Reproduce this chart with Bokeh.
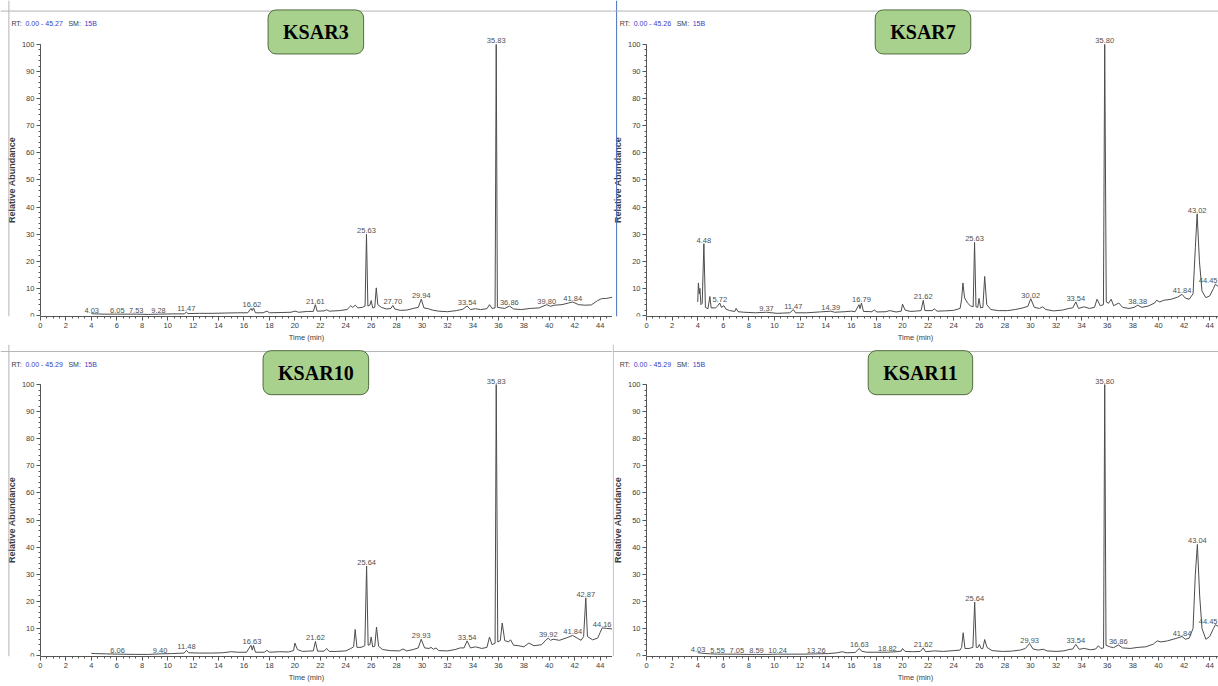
from bokeh.plotting import figure
from bokeh.layouts import gridplot
from bokeh.models import Range1d, FixedTicker, Label, ColumnDataSource, Span
from bokeh.core.properties import value
from bokeh.embed import file_html
from bokeh.resources import INLINE

# ---------------- data ----------------
ksar3_t = [4.0, 4.2, 5.0, 6.05, 7.53, 8.5, 9.28, 10.5, 11.3, 11.47, 11.6, 12.5, 13.5, 14.5, 15.5, 16.3,
           16.55, 16.65, 16.75, 16.9, 17.5, 17.8, 18.0, 19.0, 19.7, 20.0, 20.3, 21.0, 21.45, 21.61, 21.75,
           22.3, 22.5, 22.7, 23.5, 24.1, 24.4, 24.55, 24.75, 24.95, 25.3, 25.52, 25.63, 25.74, 25.9, 26.0,
           26.12, 26.28, 26.4, 26.52, 26.8, 27.2, 27.55, 27.70, 27.85, 28.3, 28.8, 29.3, 29.7, 29.94, 30.15,
           30.5, 30.8, 31.3, 32.0, 32.7, 33.2, 33.54, 33.8, 34.2, 34.6, 35.1, 35.3, 35.5, 35.74, 35.83,
           35.92, 36.2, 36.5, 36.86, 37.2, 37.8, 38.5, 39.2, 39.80, 40.1, 40.4, 41.0, 41.5, 41.84, 42.3,
           42.8, 43.3, 43.8, 44.1, 44.5, 45.0, 45.27]
ksar3_y = [0.7, 0.6, 0.5, 0.5, 0.5, 0.4, 0.5, 0.6, 0.6, 1.2, 0.7, 0.8, 0.8, 0.9, 1.0, 1.0,
           2.6, 1.8, 2.8, 1.0, 1.0, 1.6, 1.0, 1.1, 1.2, 1.6, 1.2, 1.5, 1.5, 4.0, 1.6,
           1.7, 2.1, 1.6, 1.8, 2.2, 3.6, 3.0, 3.8, 2.8, 3.0, 3.5, 30.0, 3.5, 3.8, 5.5,
           2.8, 3.0, 10.2, 4.0, 3.0, 2.4, 2.6, 3.7, 2.4, 1.9, 2.0, 2.6, 3.0, 6.0, 2.8,
           2.5, 2.0, 1.6, 1.4, 1.8, 2.3, 3.5, 2.2, 2.5, 2.2, 2.5, 4.0, 2.6, 2.8, 100.0,
           3.0, 2.8, 2.6, 3.5, 2.4, 2.2, 2.6, 2.8, 4.0, 3.4, 3.8, 4.0, 4.6, 5.0, 4.0,
           3.8, 3.9, 5.5, 6.2, 6.3, 6.8, 7.0]
ksar3_peak_rt = [4.03, 6.05, 7.53, 9.28, 11.47, 16.62, 21.61, 25.63, 27.70, 29.94, 33.54, 35.83, 36.86, 39.80, 41.84]
ksar3_peak_h = [0.7, 0.5, 0.5, 0.5, 1.2, 2.8, 4.0, 30.0, 3.7, 6.0, 3.5, 100.0, 3.5, 4.0, 5.0]

ksar7_t = [4.0, 4.05, 4.12, 4.17, 4.25, 4.35, 4.48, 4.6, 4.8, 4.95, 5.05, 5.4, 5.6, 5.72, 5.85, 6.05,
           6.2, 6.5, 6.9, 7.0, 7.15, 7.6, 8.5, 9.37, 10.2, 11.2, 11.47, 11.65, 12.5, 13.5, 14.39, 14.7,
           15.5, 16.0, 16.3, 16.6, 16.68, 16.79, 16.95, 17.6, 17.8, 18.0, 18.7, 19.0, 19.5, 19.9, 20.0,
           20.2, 20.6, 21.0, 21.45, 21.62, 21.75, 22.3, 22.5, 22.7, 23.3, 24.0, 24.5, 24.62, 24.72, 24.85,
           25.1, 25.3, 25.52, 25.63, 25.74, 25.88, 25.98, 26.1, 26.28, 26.42, 26.58, 26.9, 27.5, 28.2,
           28.8, 29.4, 29.8, 30.02, 30.3, 30.7, 30.95, 31.2, 31.8, 32.5, 33.0, 33.3, 33.54, 33.75, 34.2,
           34.6, 35.0, 35.2, 35.45, 35.7, 35.80, 35.92, 36.1, 36.3, 36.5, 36.9, 37.2, 37.7, 38.1, 38.38,
           38.7, 39.2, 39.7, 39.85, 40.1, 40.4, 41.0, 41.5, 41.84, 42.1, 42.4, 42.7, 42.88, 43.02, 43.2,
           43.4, 43.7, 44.0, 44.3, 44.45, 44.7, 45.0, 45.26]
ksar7_y = [5.0, 12.0, 8.0, 10.0, 4.0, 4.5, 26.5, 3.0, 2.5, 7.0, 2.8, 2.8, 3.8, 4.6, 3.0, 3.6,
           2.4, 1.8, 1.5, 2.6, 1.4, 1.2, 1.0, 1.2, 0.8, 1.0, 2.2, 1.0, 1.0, 1.3, 1.6, 1.2,
           1.4, 1.6, 1.4, 4.0, 2.5, 4.6, 1.5, 1.4, 2.0, 1.3, 1.4, 1.8, 1.3, 1.6, 4.2,
           2.0, 1.5, 1.6, 1.8, 5.6, 1.8, 1.8, 2.4, 1.6, 1.7, 1.9, 2.6, 6.0, 12.0, 6.5,
           4.5, 3.6, 3.2, 27.0, 3.2, 3.0, 6.3, 2.8, 3.0, 14.4, 4.0, 2.2, 1.8, 1.8,
           2.2, 2.8, 3.4, 6.2, 3.0, 2.6, 3.2, 2.2, 1.7, 2.0, 2.6, 2.8, 5.0, 2.6, 3.2,
           2.6, 3.0, 6.0, 3.6, 4.0, 100.0, 5.0, 4.5, 6.0, 3.6, 4.6, 3.0, 2.6, 3.0, 3.8,
           3.0, 3.5, 4.6, 5.6, 5.0, 5.6, 6.0, 6.8, 7.8, 6.4, 6.0, 8.0, 25.0, 37.5, 20.0,
           9.0, 6.6, 7.2, 10.0, 11.6, 10.5, 10.8, 11.0]
ksar7_peak_rt = [4.48, 5.72, 9.37, 11.47, 14.39, 16.79, 21.62, 25.63, 30.02, 33.54, 35.80, 38.38, 41.84, 43.02, 44.45]
ksar7_peak_h = [26.5, 4.6, 1.2, 2.2, 1.6, 4.6, 5.6, 27.0, 6.2, 5.0, 100.0, 3.8, 7.8, 37.5, 11.6]

ksar10_t = [4.0, 4.3, 5.2, 6.06, 7.5, 8.5, 9.40, 10.3, 11.3, 11.48, 11.65, 12.5, 13.5, 14.3, 15.0, 15.5,
            16.2, 16.55, 16.65, 16.75, 16.9, 17.6, 17.8, 18.0, 18.8, 19.5, 19.9, 20.0, 20.2, 20.6, 21.0,
            21.45, 21.62, 21.78, 22.3, 22.5, 22.7, 23.3, 24.0, 24.4, 24.62, 24.74, 24.88, 25.2, 25.5,
            25.64, 25.76, 25.9, 26.0, 26.12, 26.28, 26.42, 26.58, 26.9, 27.5, 28.2, 28.5, 28.8, 29.3,
            29.7, 29.93, 30.2, 30.55, 30.7, 30.9, 31.1, 31.3, 32.0, 32.6, 33.0, 33.3, 33.54, 33.8, 34.2,
            34.7, 35.1, 35.3, 35.5, 35.74, 35.83, 35.95, 36.15, 36.3, 36.5, 36.8, 36.95, 37.2, 37.6, 38.0,
            38.4, 38.8, 39.4, 39.75, 39.92, 40.1, 40.3, 40.8, 41.4, 41.84, 42.2, 42.5, 42.7, 42.87, 43.0,
            43.4, 43.8, 44.0, 44.16, 44.5, 45.0, 45.29]
ksar10_y = [0.8, 0.7, 0.6, 0.5, 0.4, 0.4, 0.6, 0.7, 0.9, 1.9, 1.0, 0.9, 0.9, 1.0, 1.4, 1.2,
            1.2, 3.8, 2.0, 3.7, 1.2, 1.2, 1.9, 1.2, 1.4, 1.3, 1.8, 4.6, 2.2, 1.5, 1.6,
            1.7, 5.2, 1.6, 1.6, 2.6, 1.5, 1.5, 1.7, 2.6, 3.2, 9.6, 3.0, 3.0, 3.6,
            33.0, 3.8, 4.0, 6.8, 3.2, 3.4, 10.5, 3.4, 2.2, 1.8, 1.7, 2.4, 1.7, 2.2,
            2.8, 6.0, 2.8, 2.6, 3.0, 2.3, 2.8, 1.8, 1.7, 2.2, 2.8, 2.8, 5.4, 2.8, 3.2,
            2.6, 3.0, 6.8, 4.0, 4.5, 100.0, 5.0, 5.5, 12.0, 5.5, 5.0, 5.8, 3.8, 3.6, 3.2,
            4.6, 3.6, 4.0, 5.8, 6.4, 5.6, 6.0, 5.6, 6.6, 7.4, 6.4, 5.6, 7.0, 21.3, 7.0,
            5.8, 6.4, 8.5, 10.2, 10.0, 9.8, 10.0]
ksar10_peak_rt = [6.06, 9.40, 11.48, 16.63, 21.62, 25.64, 29.93, 33.54, 35.83, 39.92, 41.84, 42.87, 44.16]
ksar10_peak_h = [0.5, 0.6, 1.9, 3.8, 5.2, 33.0, 6.0, 5.4, 100.0, 6.4, 7.4, 21.3, 10.2]

ksar11_t = [4.0, 4.1, 4.4, 5.0, 5.55, 6.3, 7.05, 7.8, 8.59, 9.4, 10.24, 11.3, 12.3, 13.26, 14.2, 14.9,
            15.3, 15.6, 16.3, 16.63, 16.8, 17.2, 18.0, 18.82, 19.5, 19.9, 20.0, 20.2, 20.8, 21.4, 21.62,
            21.8, 22.5, 23.2, 24.0, 24.5, 24.62, 24.74, 24.88, 25.2, 25.5, 25.64, 25.76, 25.9, 26.0,
            26.15, 26.28, 26.42, 26.6, 27.0, 27.8, 28.5, 29.2, 29.6, 29.93, 30.2, 30.6, 31.0, 31.3, 32.0,
            32.6, 33.0, 33.3, 33.54, 33.8, 34.2, 34.7, 35.1, 35.3, 35.5, 35.71, 35.80, 35.9, 36.2, 36.5,
            36.86, 37.2, 37.8, 38.4, 39.0, 39.6, 39.9, 40.2, 40.7, 41.3, 41.84, 42.1, 42.4, 42.7, 42.88,
            43.04, 43.22, 43.4, 43.7, 44.0, 44.3, 44.45, 44.7, 45.0, 45.29]
ksar11_y = [1.0, 1.0, 0.8, 0.6, 0.5, 0.5, 0.5, 0.4, 0.4, 0.4, 0.5, 0.5, 0.5, 0.6, 0.7, 1.0,
            1.4, 1.0, 1.1, 2.6, 1.6, 1.2, 1.2, 1.2, 1.4, 1.6, 2.6, 1.5, 1.4, 1.5, 2.8,
            1.4, 1.7, 1.5, 1.8, 2.0, 3.0, 8.4, 2.6, 2.6, 3.0, 19.7, 3.0, 3.0, 4.1,
            2.5, 2.6, 5.9, 3.0, 1.8, 1.5, 1.6, 2.0, 2.6, 4.4, 2.4, 2.0, 2.3, 1.7, 1.5,
            1.7, 2.2, 2.4, 4.1, 2.3, 2.6, 2.1, 2.4, 3.6, 2.6, 2.8, 100.0, 3.8, 3.2, 2.9,
            3.9, 2.8, 2.6, 3.0, 3.2, 4.2, 5.4, 5.0, 5.4, 6.2, 7.0, 6.0, 6.4, 10.0, 30.0,
            41.0, 22.0, 10.0, 6.0, 7.0, 10.0, 11.4, 10.6, 10.5, 10.6]
ksar11_peak_rt = [4.03, 5.55, 7.05, 8.59, 10.24, 13.26, 16.63, 18.82, 21.62, 25.64, 29.93, 33.54, 35.80, 36.86, 41.84, 43.04, 44.45]
ksar11_peak_h = [1.0, 0.5, 0.5, 0.4, 0.5, 0.6, 2.6, 1.2, 2.8, 19.7, 4.4, 4.1, 100.0, 3.9, 7.0, 41.0, 11.4]

sample_names = ["KSAR3", "KSAR7", "KSAR10", "KSAR11"]
rt_windows = ["0.00 - 45.27", "0.00 - 45.26", "0.00 - 45.29", "0.00 - 45.29"]
smoothing = ["15B", "15B", "15B", "15B"]

x_ticks = list(range(0, 46, 2))
x_minor_ticks = [i * 0.5 for i in range(0, 91)]
y_ticks = list(range(0, 101, 10))
y_minor_ticks = list(range(0, 101, 2))

# ---------------- drawing ----------------
SANS = "Liberation Sans"
TXT = "#3c3c3c"
BLUE = "#3b3bc4"


def make_panel(name, t, y, pk_rt, pk_h, rt_win, sm, width, height, bottom_border,
               x_start, x_end, y_start, y_end, box_x, box_y, rt_x, rt_y,
               border_color, border_x, top_y):
    p = figure(width=width, height=height, x_range=Range1d(x_start, x_end),
               y_range=Range1d(y_start, y_end), output_backend="svg",
               toolbar_location=None, min_border_left=0, min_border_right=0,
               min_border_top=0, min_border_bottom=bottom_border)
    p.outline_line_color = None
    p.grid.visible = False
    p.background_fill_color = "white"
    p.border_fill_color = "white"

    # panel borders
    p.add_layout(Span(location=border_x, dimension="height", line_color=border_color, line_width=1))
    p.add_layout(Span(location=top_y, dimension="width", line_color="#b4b4b4", line_width=1))

    p.line(t, y, line_color="#4d4d4d", line_width=1)

    ppm = width / (x_end - x_start)
    labels = [f"{v:.2f}" for v in pk_rt]
    inner = [i for i, v in enumerate(pk_rt) if (x_end - v) * ppm > 11]
    edge = [i for i, v in enumerate(pk_rt) if (x_end - v) * ppm <= 11]
    src = ColumnDataSource(dict(x=[pk_rt[i] for i in inner], y=[pk_h[i] for i in inner],
                                label=[labels[i] for i in inner]))
    p.text(x="x", y="y", text="label", source=src, text_align="center",
           text_baseline="bottom", y_offset=-1, text_font=value(SANS),
           text_font_size="7.5px", text_color="#505050")
    for i in edge:
        p.text(x=[pk_rt[i]], y=[pk_h[i]], text=[labels[i]], text_align="right",
               text_baseline="bottom", y_offset=-1, x_offset=(x_end - pk_rt[i]) * ppm - 1,
               text_font=value(SANS), text_font_size="7.5px", text_color="#505050")

    xa = p.xaxis[0]
    ya = p.yaxis[0]
    ya.fixed_location = 0
    xa.ticker = FixedTicker(ticks=x_ticks, minor_ticks=x_minor_ticks)
    ya.ticker = FixedTicker(ticks=y_ticks, minor_ticks=y_minor_ticks)
    xa.bounds = (0, 45.3)
    ya.bounds = (0, 100)
    for ax in (xa, ya):
        ax.axis_line_color = "#555555"
        ax.major_tick_line_color = "#555555"
        ax.minor_tick_line_color = "#555555"
        ax.major_tick_out = 4
        ax.major_tick_in = 0
        ax.minor_tick_out = 2
        ax.minor_tick_in = 0
        ax.major_label_text_font = SANS
        ax.major_label_text_font_size = "7.5px"
        ax.major_label_text_color = TXT
        ax.major_label_standoff = 2
        ax.axis_label_text_font = SANS
        ax.axis_label_text_color = TXT
        ax.axis_label_standoff = 2
    xa.axis_label = "Time (min)"
    xa.axis_label_text_font_size = "7.5px"
    xa.axis_label_text_font_style = "normal"
    ya.axis_label = "Relative Abundance"
    ya.axis_label_text_font_size = "9px"
    ya.axis_label_text_font_style = "bold"

    # RT / SM header
    parts = [("RT:", TXT, 0), (rt_win, BLUE, 14), ("SM:", TXT, 57), (sm, BLUE, 73)]
    for txt, col, off in parts:
        p.add_layout(Label(x=rt_x, y=rt_y, x_offset=off, text=txt, text_color=col,
                           text_font=SANS, text_font_size="7px",
                           text_align="left", text_baseline="middle"))

    # sample name badge
    p.add_layout(Label(x=box_x, y=box_y, text=name, text_align="center",
                       text_baseline="middle", text_font="Liberation Serif",
                       text_font_style="bold", text_font_size="20px",
                       text_color="black", background_fill_color="#a9d18e",
                       border_line_color="#4f6b3f", border_line_width=1,
                       border_radius=8, padding=(15, 11)))
    return p


GRAY = "#b4b4b4"
# left column: 612 px wide, x = 0 at 40 px, 12.72 px/min ; right column: 606 px, x = 0 at 34 px, 12.8 px/min
# top row: 344 px tall (0 at 315 px) ; bottom row: 342 px tall (0 at 311 px)
p1 = make_panel(sample_names[0], ksar3_t, ksar3_y, ksar3_peak_rt, ksar3_peak_h,
                rt_windows[0], smoothing[0], 612, 344, 28, -3.14, 44.97, -0.37, 116.2,
                21.65, 104.6, -2.28, 107.7, GRAY, -2.48, 112.3)
p2 = make_panel(sample_names[1], ksar7_t, ksar7_y, ksar7_peak_rt, ksar7_peak_h,
                rt_windows[1], smoothing[1], 606, 344, 28, -2.66, 44.69, -0.37, 116.2,
                21.6, 104.6, -2.1, 107.7, "#4a6fc0", -2.34, 112.3)
p3 = make_panel(sample_names[2], ksar10_t, ksar10_y, ksar10_peak_rt, ksar10_peak_h,
                rt_windows[2], smoothing[2], 612, 342, 30, -3.14, 44.97, -0.37, 114.8,
                21.65, 104.4, -2.28, 107.4, GRAY, -2.48, 112.2)
p4 = make_panel(sample_names[3], ksar11_t, ksar11_y, ksar11_peak_rt, ksar11_peak_h,
                rt_windows[3], smoothing[3], 606, 342, 30, -2.66, 44.69, -0.37, 114.8,
                21.4, 104.4, -2.1, 107.4, "#a9bfe6", -2.6, 112.2)

grid = gridplot([[p1, p2], [p3, p4]], toolbar_location=None)

open("out.html", "w").write(file_html(grid, INLINE))
